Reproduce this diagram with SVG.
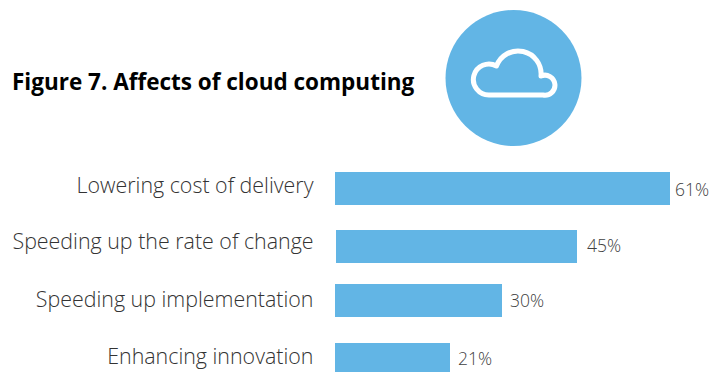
<svg xmlns="http://www.w3.org/2000/svg" width="713" height="372" viewBox="0 0 713 372">
<style>
.title{font-family:"Open Sans","Liberation Sans",sans-serif;font-weight:700;font-size:22.5px;fill:#000}
.lbl{font-family:"Open Sans","Liberation Sans",sans-serif;font-weight:300;font-size:21.4px;fill:#333;text-anchor:end}
.val{font-family:"Open Sans","Liberation Sans",sans-serif;font-weight:300;font-size:17.5px;fill:#404040}
.bar{fill:#62B5E5}
</style>
<rect width="713" height="372" fill="#fff"/>
<text class="title" x="12" y="90">Figure 7. Affects of cloud computing</text>
<g id="icon">
<circle cx="513.5" cy="78" r="68" fill="#62B5E5"/>
<path d="M 489 95 A 15.5 15.5 0 1 1 496.5 66 A 23 23 0 0 1 541 76 A 10 10 0 1 1 543 95 Z" fill="none" stroke="#fff" stroke-width="5" stroke-linejoin="round"/>
</g>
<g id="bar1">
<text class="lbl" x="313.5" y="193">Lowering cost of delivery</text>
<rect class="bar" x="335" y="172" width="335" height="33"/>
<text class="val" x="675" y="196">61%</text>
</g>
<g id="bar2">
<text class="lbl" x="313.5" y="249">Speeding up the rate of change</text>
<rect class="bar" x="336" y="230" width="241" height="33"/>
<text class="val" x="587" y="252">45%</text>
</g>
<g id="bar3">
<text class="lbl" x="313.5" y="306.5">Speeding up implementation</text>
<rect class="bar" x="335" y="284" width="167" height="33"/>
<text class="val" x="510" y="307">30%</text>
</g>
<g id="bar4">
<text class="lbl" x="313.5" y="364">Enhancing innovation</text>
<rect class="bar" x="335" y="343" width="115" height="29"/>
<text class="val" x="458" y="365">21%</text>
</g>
</svg>
